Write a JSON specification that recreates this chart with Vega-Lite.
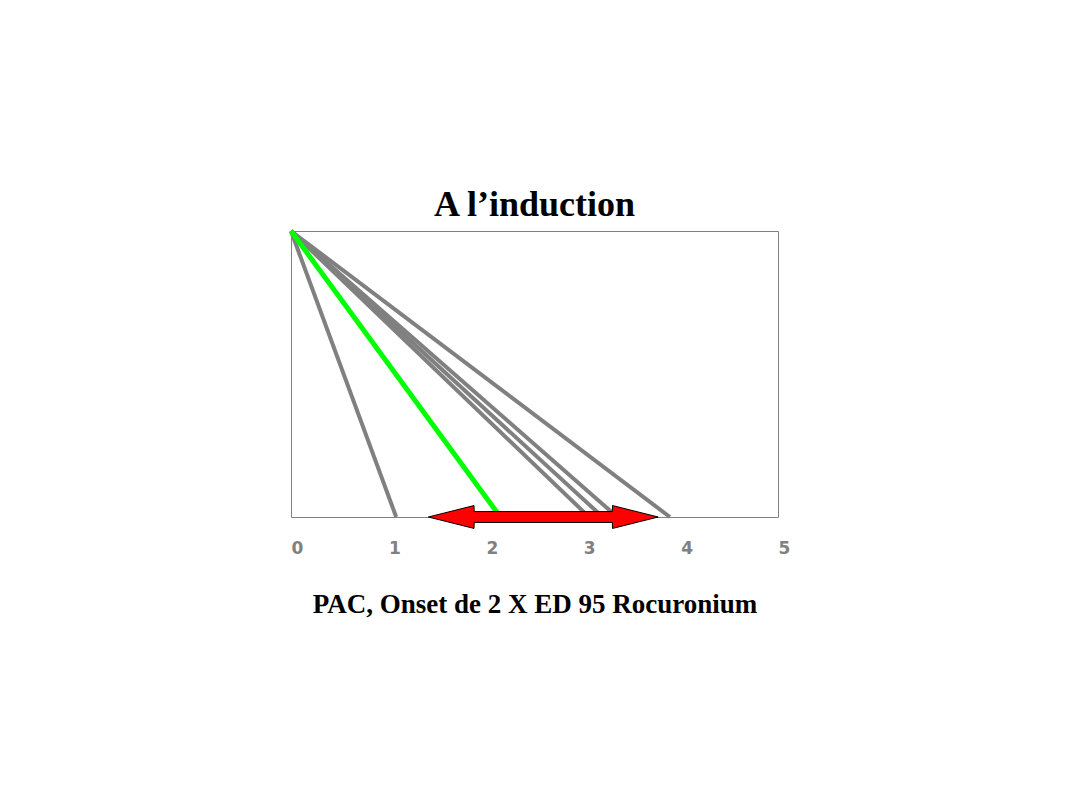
{
  "$schema": "https://vega.github.io/schema/vega-lite/v6.json",
  "width": 487,
  "height": 286,
  "padding": {"left": 281, "top": 187, "right": 5, "bottom": 5},
  "background": "white",
  "config": {"view": {"stroke": "#808080", "strokeWidth": 1}},
  "title": {"text": "A l’induction", "font": "Liberation Serif", "fontSize": 36, "fontWeight": "bold", "color": "black", "anchor": "middle", "offset": -3},
  "datasets": {
    "lines": [
      {"id": "g1", "kind": "gray", "x": 0, "y": 100}, {"id": "g1", "kind": "gray", "x": 1.08, "y": 0},
      {"id": "g2", "kind": "gray", "x": 0, "y": 100}, {"id": "g2", "kind": "gray", "x": 3.06, "y": 0},
      {"id": "g3", "kind": "gray", "x": 0, "y": 100}, {"id": "g3", "kind": "gray", "x": 3.2, "y": 0},
      {"id": "g4", "kind": "gray", "x": 0, "y": 100}, {"id": "g4", "kind": "gray", "x": 3.35, "y": 0},
      {"id": "g5", "kind": "gray", "x": 0, "y": 100}, {"id": "g5", "kind": "gray", "x": 3.89, "y": 0},
      {"id": "gr", "kind": "green", "x": 0, "y": 100}, {"id": "gr", "kind": "green", "x": 2.15, "y": 0}
    ],
    "arrow": [
      {"x": 1.41, "lo": 0, "hi": 0},
      {"x": 1.879, "lo": -4, "hi": 4},
      {"x": 1.881, "lo": -1.9, "hi": 1.9},
      {"x": 3.299, "lo": -1.9, "hi": 1.9},
      {"x": 3.301, "lo": -4, "hi": 4},
      {"x": 3.77, "lo": 0, "hi": 0}
    ]
  },
  "layer": [
    {
      "data": {"name": "lines"},
      "transform": [{"filter": "datum.kind === 'gray'"}],
      "mark": {"type": "line", "strokeWidth": 4, "color": "#808080"},
      "encoding": {
        "x": {"field": "x", "type": "quantitative", "scale": {"domain": [0, 5], "nice": false},
          "axis": {"title": "PAC, Onset de 2 X ED 95 Rocuronium", "titleFont": "Liberation Serif", "titleFontSize": 27, "titleFontWeight": "bold", "titleColor": "black", "titlePadding": 35,
            "values": [0, 1, 2, 3, 4, 5], "format": "d", "labelFont": "DejaVu Sans", "labelFontSize": 17, "labelFontWeight": "bold", "labelColor": "#808080", "labelPadding": 23, "labelOffset": 6,
            "ticks": false, "domain": false, "grid": false, "labelFlush": false}},
        "y": {"field": "y", "type": "quantitative", "scale": {"domain": [0, 100], "nice": false}, "axis": null},
        "detail": {"field": "id"}
      }
    },
    {
      "data": {"name": "lines"},
      "transform": [{"filter": "datum.kind === 'green'"}],
      "mark": {"type": "line", "strokeWidth": 5, "color": "#00ff00"},
      "encoding": {
        "x": {"field": "x", "type": "quantitative"},
        "y": {"field": "y", "type": "quantitative"},
        "detail": {"field": "id"}
      }
    },
    {
      "data": {"name": "arrow"},
      "mark": {"type": "area", "fill": "#ff0000", "fillOpacity": 1, "stroke": "black", "strokeWidth": 1, "orient": "vertical"},
      "encoding": {
        "x": {"field": "x", "type": "quantitative"},
        "y": {"field": "lo", "type": "quantitative"},
        "y2": {"field": "hi"}
      }
    }
  ]
}
